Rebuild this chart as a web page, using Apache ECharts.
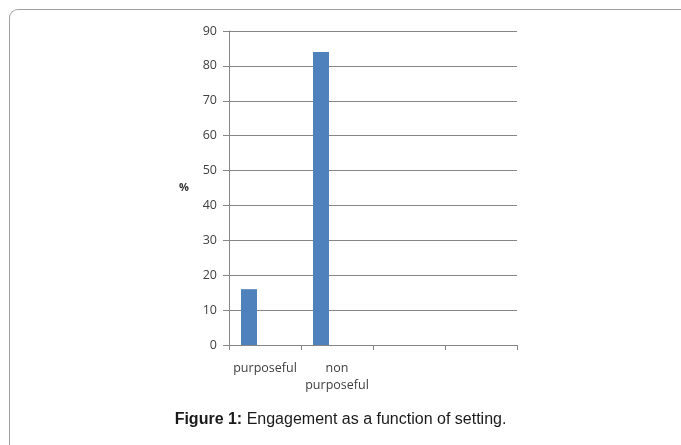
<!DOCTYPE html>
<html>
<head>
<meta charset="utf-8">
<script src="https://cdn.jsdelivr.net/npm/echarts@6/dist/echarts.min.js"></script>
<style>
  html, body { margin: 0; padding: 0; background: #fff; }
  #frame {
    position: absolute; left: 9px; top: 9px; width: 700px; height: 460px;
    border-top: 1.5px solid #a0a0a0; border-left: 1.5px solid #a0a0a0;
    border-top-left-radius: 9px; box-sizing: border-box;
  }
  #chart { position: absolute; left: 0; top: 0; width: 681px; height: 445px; }
</style>
</head>
<body>
<div id="frame"></div>
<div id="chart"></div>
<script>
// Categories on the horizontal axis (last two slots are left blank)
const categories = ['purposeful', 'non\npurposeful', '', ''];
// Percentage of engagement per setting
const series1 = [16, 84, null, null];
const series2 = [null, null, null, null];
const series3 = [null, null, null, null];
const yTicks = { min: 0, max: 90, interval: 10 };

const chart = echarts.init(document.getElementById('chart'), null, { renderer: 'canvas' });
const barStyle = { color: '#4F81BD' };
const axisFont = { fontFamily: 'Open Sans', fontSize: 12.5, color: '#404040' };

chart.setOption({
  animation: false,
  backgroundColor: 'transparent',
  title: {
    text: '{b|Figure 1:} Engagement as a function of setting.',
    left: 'center',
    top: 407,
    textStyle: {
      fontFamily: 'Liberation Sans',
      fontSize: 16,
      fontWeight: 'normal',
      color: '#1a1a1a',
      rich: { b: { fontFamily: 'Liberation Sans', fontSize: 16, fontWeight: 'bold', color: '#1a1a1a' } }
    }
  },
  grid: { left: 229, top: 31, width: 288, height: 314, containLabel: false },
  xAxis: {
    type: 'category',
    data: categories,
    boundaryGap: true,
    axisLine: { lineStyle: { color: '#868686', width: 1 } },
    axisTick: { show: true, length: 5, alignWithLabel: false, lineStyle: { color: '#868686' } },
    axisLabel: Object.assign({ margin: 15, lineHeight: 17, interval: 0 }, axisFont),
    splitLine: { show: false }
  },
  yAxis: {
    type: 'value',
    min: yTicks.min, max: yTicks.max, interval: yTicks.interval,
    name: '%',
    nameLocation: 'middle',
    nameRotate: 0,
    nameGap: 40,
    nameTextStyle: { fontFamily: 'Open Sans', fontSize: 11, color: '#333', fontWeight: 'bold', padding: [6, 0, 0, 0] },
    axisLine: { show: true, lineStyle: { color: '#868686', width: 1 } },
    axisTick: { show: true, length: 6, lineStyle: { color: '#868686' } },
    axisLabel: Object.assign({ margin: 12 }, axisFont),
    splitLine: { show: true, lineStyle: { color: '#868686', width: 1 } }
  },
  series: [
    { name: 'Series1', type: 'bar', data: series1, barWidth: 16, barGap: '0%', itemStyle: barStyle },
    { name: 'Series2', type: 'bar', data: series2, barWidth: 16, barGap: '0%', itemStyle: barStyle },
    { name: 'Series3', type: 'bar', data: series3, barWidth: 16, barGap: '0%', itemStyle: barStyle }
  ]
});
</script>
</body>
</html>
